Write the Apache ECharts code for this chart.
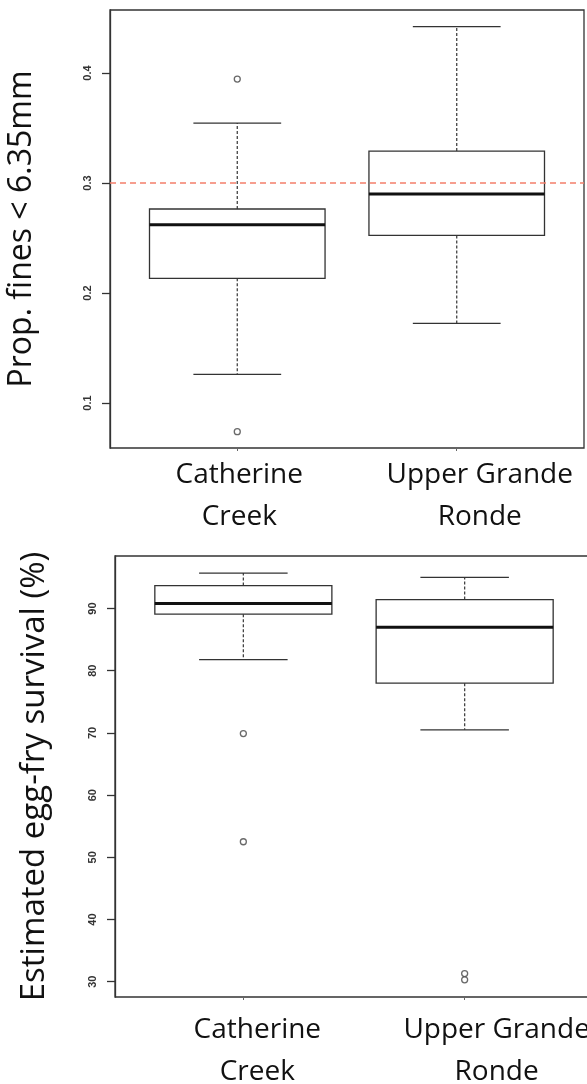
<!DOCTYPE html>
<html>
<head>
<meta charset="utf-8">
<title>Fine sediment and egg-fry survival</title>
<script src="https://cdn.jsdelivr.net/npm/echarts@6/dist/echarts.min.js"></script>
<style>
  html, body { margin: 0; padding: 0; background: #fff; }
  #chart { width: 587px; height: 1084px; }
</style>
</head>
<body>
<div id="chart"></div>
<script>
// Sites compared in both panels (x positions 1 and 2)
const sites = ['Catherine\nCreek', 'Upper Grande\nRonde'];
const sitePositions = [1, 2];

// Box statistics per site: [lower whisker, Q1, median, Q3, upper whisker]
const finesStats = [
  [0.126, 0.2134, 0.262, 0.2764, 0.3545],
  [0.1724, 0.2524, 0.290, 0.329, 0.4421]
];
// Outlying points: [site position, value]
const finesOutliers = [
  [1, 0.3945],
  [1, 0.0739]
];
const finesThreshold = 0.3;
const finesTicks = [0.1, 0.2, 0.3, 0.4];

const survivalStats = [
  [81.8, 89.1, 90.8, 93.7, 95.7],
  [70.5, 78.0, 87.0, 91.45, 95.0]
];
const survivalOutliers = [
  [1, 69.9],
  [1, 52.5],
  [2, 31.3],
  [2, 30.3]
];
const survivalTicks = [30, 40, 50, 60, 70, 80, 90];

const BOX_HALF = 0.4;   // half box width in x units
const CAP_HALF = 0.2;   // half whisker-cap width
const INK = '#333';

function boxData(stats) {
  return stats.map((s, i) => [sitePositions[i]].concat(s));
}

function renderBox(params, api) {
  const x = api.value(0);
  const lo = api.value(1), q1 = api.value(2), md = api.value(3),
        q3 = api.value(4), hi = api.value(5);
  const p = (xx, yy) => api.coord([xx, yy]);
  const tl = p(x - BOX_HALF, q3), br = p(x + BOX_HALF, q1);
  const whiskerStyle = { stroke: '#444', lineWidth: 1.3, lineDash: [3, 2] };
  const solid = { stroke: INK, lineWidth: 1.3 };
  const line = (a, b, style) => ({
    type: 'line',
    shape: { x1: a[0], y1: a[1], x2: b[0], y2: b[1] },
    style: style
  });
  return {
    type: 'group',
    children: [
      line(p(x, q3), p(x, hi), whiskerStyle),
      line(p(x, q1), p(x, lo), whiskerStyle),
      line(p(x - CAP_HALF, hi), p(x + CAP_HALF, hi), solid),
      line(p(x - CAP_HALF, lo), p(x + CAP_HALF, lo), solid),
      {
        type: 'rect',
        shape: { x: tl[0], y: tl[1], width: br[0] - tl[0], height: br[1] - tl[1] },
        style: { fill: 'none', stroke: INK, lineWidth: 1.3 }
      },
      line(p(x - BOX_HALF, md), p(x + BOX_HALF, md), { stroke: '#111', lineWidth: 3 })
    ]
  };
}

// Category labels as rich tokens; left padding nudges each label sideways
function siteLabel(prefix) {
  return function (v) {
    const idx = sitePositions.indexOf(Math.round(v));
    if (idx < 0) return '';
    return sites[idx].split('\n').map(t => '{' + prefix + idx + '|' + t + '}').join('\n');
  };
}

const labelFont = { fontFamily: 'Open Sans', fontSize: 28, color: '#111', lineHeight: 42 };

function xAxisFor(gridIndex, prefix, margin, pads) {
  const rich = {};
  pads.forEach((pad, i) => {
    rich[prefix + i] = Object.assign({ padding: [0, 0, 0, pad] }, labelFont);
  });
  return {
    type: 'value',
    gridIndex: gridIndex,
    min: 0.42,
    max: 2.58,
    axisLine: { show: false },
    splitLine: { show: false },
    axisTick: { show: true, customValues: sitePositions, length: 3, lineStyle: { color: '#666' } },
    axisLabel: {
      show: true,
      customValues: sitePositions,
      margin: margin,
      hideOverlap: false,
      formatter: siteLabel(prefix),
      rich: rich
    }
  };
}

function yAxisFor(gridIndex, min, max, ticks, name, nameGap, nameSize) {
  return {
    type: 'value',
    gridIndex: gridIndex,
    min: min,
    max: max,
    name: name,
    nameLocation: 'middle',
    nameRotate: 90,
    nameGap: nameGap,
    nameTextStyle: { fontFamily: 'Open Sans', fontSize: nameSize, color: '#111' },
    axisLine: { show: true, lineStyle: { color: INK, width: 1.3 } },
    splitLine: { show: false },
    axisTick: { show: true, customValues: ticks, length: 8, lineStyle: { color: INK, width: 1.3 } },
    axisLabel: {
      show: true,
      customValues: ticks,
      rotate: 90,
      margin: 17,
      fontFamily: 'Liberation Sans',
      fontSize: 11,
      fontWeight: 'bold',
      color: '#333'
    }
  };
}

const gridStyle = {
  show: true,
  borderColor: INK,
  borderWidth: 1.3,
  backgroundColor: 'transparent',
  outerBoundsMode: 'none',
  containLabel: false
};

const option = {
  animation: false,
  backgroundColor: '#fff',
  grid: [
    Object.assign({ left: 110, top: 10, width: 474, height: 438 }, gridStyle),
    Object.assign({ left: 115, top: 556, width: 478, height: 441 }, gridStyle)
  ],
  xAxis: [
    xAxisFor(0, 'a', 6, [4, 46]),
    xAxisFor(1, 'b', 12, [28, 64])
  ],
  yAxis: [
    yAxisFor(0, 0.0591, 0.4573, finesTicks, 'Prop. fines < 6.35mm', 72, 32),
    yAxisFor(1, 27.54, 98.45, survivalTicks, 'Estimated egg-fry survival (%)', 64, 33)
  ],
  series: [
    {
      type: 'custom',
      xAxisIndex: 0,
      yAxisIndex: 0,
      renderItem: renderBox,
      data: boxData(finesStats),
      encode: { x: 0, y: [1, 2, 3, 4, 5] },
      markLine: {
        silent: true,
        symbol: 'none',
        label: { show: false },
        lineStyle: { color: '#f47f6b', type: [6, 4], width: 1.6 },
        data: [{ yAxis: finesThreshold }]
      }
    },
    {
      type: 'scatter',
      xAxisIndex: 0,
      yAxisIndex: 0,
      symbol: 'circle',
      symbolSize: 6,
      itemStyle: { color: '#fff', borderColor: '#444', borderWidth: 1.3 },
      data: finesOutliers
    },
    {
      type: 'custom',
      xAxisIndex: 1,
      yAxisIndex: 1,
      renderItem: renderBox,
      data: boxData(survivalStats),
      encode: { x: 0, y: [1, 2, 3, 4, 5] }
    },
    {
      type: 'scatter',
      xAxisIndex: 1,
      yAxisIndex: 1,
      symbol: 'circle',
      symbolSize: 6,
      itemStyle: { color: '#fff', borderColor: '#444', borderWidth: 1.3 },
      data: survivalOutliers
    }
  ]
};

const chart = echarts.init(document.getElementById('chart'), null, { renderer: 'canvas' });
chart.setOption(option);
</script>
</body>
</html>
